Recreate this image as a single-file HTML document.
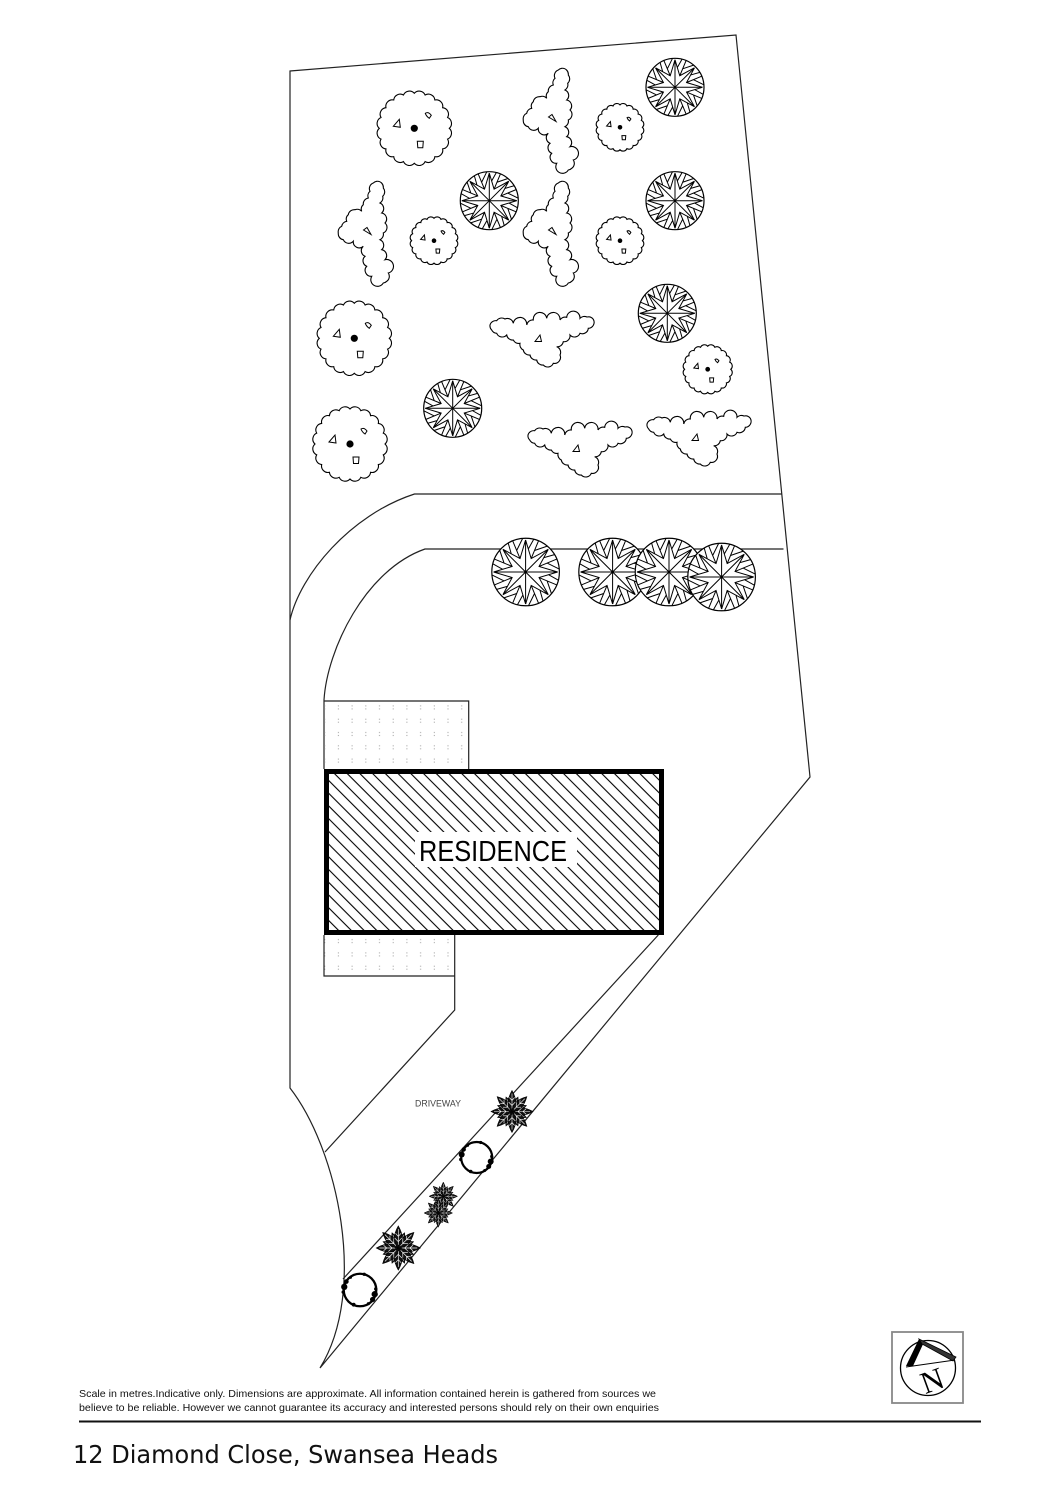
<!DOCTYPE html>
<html><head><meta charset="utf-8">
<style>
html,body{margin:0;padding:0;background:#fff;}
svg{display:block;}
</style></head>
<body>
<svg width="1060" height="1500" viewBox="0 0 1060 1500" xmlns="http://www.w3.org/2000/svg">
<defs>
 <pattern id="hatch" width="9" height="9" patternUnits="userSpaceOnUse" patternTransform="rotate(-45)">
  <line x1="4.5" y1="-1" x2="4.5" y2="10" stroke="#000" stroke-width="1.1"/>
 </pattern>
 <pattern id="dots1" x="318" y="700.6" width="13.7" height="13.3" patternUnits="userSpaceOnUse">
  <rect x="6.2" y="4.8" width="1" height="1" fill="#999"/><rect x="6.2" y="7.8" width="1" height="1" fill="#999"/>
 </pattern>
 <pattern id="dots2" x="318" y="934.3" width="13.7" height="13.3" patternUnits="userSpaceOnUse">
  <rect x="6.2" y="4.8" width="1" height="1" fill="#999"/><rect x="6.2" y="7.8" width="1" height="1" fill="#999"/>
 </pattern>

 <!-- star tree -->
 <path id="sec" d="M0,-27.5 L4.78,-11.55 L19.45,-19.45 M0,0 L0,-27.5 M4.78,-11.55 L11.1,-26.79 M7.65,-18.48 L18.64,-22.21 M2.2,-19.5 L7.0,-28.1" fill="none" stroke="#000" stroke-width="1" vector-effect="non-scaling-stroke"/>
 <g id="st">
  <circle r="29" fill="#fff" stroke="#000" stroke-width="1.2" vector-effect="non-scaling-stroke"/>
  <use href="#sec"/>
  <use href="#sec" transform="rotate(45)"/>
  <use href="#sec" transform="rotate(90)"/>
  <use href="#sec" transform="rotate(135)"/>
  <use href="#sec" transform="rotate(180)"/>
  <use href="#sec" transform="rotate(225)"/>
  <use href="#sec" transform="rotate(270)"/>
  <use href="#sec" transform="rotate(315)"/>
 </g>

 <!-- cloud tree -->
 <g id="ct">
  <path d="M35,0 A6.5,6.5 0 0 1 33.29,10.82 A6.5,6.5 0 0 1 28.32,20.57 A6.5,6.5 0 0 1 20.57,28.32 A6.5,6.5 0 0 1 10.82,33.29 A6.5,6.5 0 0 1 0,35 A6.5,6.5 0 0 1 -10.82,33.29 A6.5,6.5 0 0 1 -20.57,28.32 A6.5,6.5 0 0 1 -28.32,20.57 A6.5,6.5 0 0 1 -33.29,10.82 A6.5,6.5 0 0 1 -35,0 A6.5,6.5 0 0 1 -33.29,-10.82 A6.5,6.5 0 0 1 -28.32,-20.57 A6.5,6.5 0 0 1 -20.57,-28.32 A6.5,6.5 0 0 1 -10.82,-33.29 A6.5,6.5 0 0 1 0,-35 A6.5,6.5 0 0 1 10.82,-33.29 A6.5,6.5 0 0 1 20.57,-28.32 A6.5,6.5 0 0 1 28.32,-20.57 A6.5,6.5 0 0 1 33.29,-10.82 A6.5,6.5 0 0 1 35,0 Z" fill="#fff" stroke="#000" stroke-width="1.1" vector-effect="non-scaling-stroke"/>
  <circle r="3.6" fill="#000"/>
  <path d="M-21,-2 L-15,-9 L-14,-1 Z M11,-15 Q14,-17 17,-13 L15,-10 Q12,-12 11,-15 Z M3,13 L9,13 L8.5,19.5 L3.5,19.5 Z" fill="none" stroke="#000" stroke-width="1" vector-effect="non-scaling-stroke"/>
 </g>

 <!-- vertical shrub -->
 <g id="vs">
  <path d="M561.7,68.3 A6,6 0 0 1 568.3,75 A6,6 0 0 1 567.7,83.3 A6,6 0 0 1 565,90 A6,6 0 0 1 566.7,100 A6,6 0 0 1 570,110 A6,6 0 0 1 568.3,120 A6,6 0 0 1 565,126.7 A6,6 0 0 1 566.7,136.7 A6,6 0 0 1 570,146.7 A6,6 0 0 1 573.3,160 A6,6 0 0 1 571.7,168.3 A6,6 0 0 1 568.3,170 A6,6 0 0 1 556.7,163.3 A6,6 0 0 1 551.7,153.3 A6,6 0 0 1 550,143.3 A6,6 0 0 1 548.3,133.3 A6,6 0 0 1 538.3,128.3 A6,6 0 0 1 528.3,126.7 A6,6 0 0 1 523.3,120 A6,6 0 0 1 526.7,113.3 A6,6 0 0 1 531.7,108.3 A6,6 0 0 1 533.3,101.7 A6,6 0 0 1 540,96.7 A6,6 0 0 1 546.7,98.3 A6,6 0 0 1 548.3,91.7 A6,6 0 0 1 553.3,85 A6,6 0 0 1 555,78.3 A6,6 0 0 1 558.3,70 A6,6 0 0 1 561.7,68.3 Z" fill="#fff" stroke="#000" stroke-width="1.1"/>
  <path d="M548.5,117 L552,114.5 L556,121.5 Z" fill="none" stroke="#000" stroke-width="1"/>
 </g>

 <!-- horizontal shrub -->
 <g id="hs">
  <path d="M490,325 A6,6 0 0 1 496.7,320.7 A6,6 0 0 1 505,319 A6,6 0 0 1 513.3,323.3 A6,6 0 0 1 526.7,325 A6,6 0 0 1 533.3,320 A6,6 0 0 1 546.7,318.3 A6,6 0 0 1 560,320 A6,6 0 0 1 566.7,317.3 A6,6 0 0 1 580,318.3 A6,6 0 0 1 587,317 A6,6 0 0 1 593.3,319.3 A6,6 0 0 1 588.3,328.3 A6,6 0 0 1 580,333.3 A6,6 0 0 1 570,335 A6,6 0 0 1 563.3,341.7 A6,6 0 0 1 556.7,346.7 A6,6 0 0 1 560,355 A6,6 0 0 1 553.3,363.3 A6,6 0 0 1 543.3,365 A6,6 0 0 1 536.7,360 A6,6 0 0 1 530,355 A6,6 0 0 1 523.3,350 A6,6 0 0 1 520,343.3 A6,6 0 0 1 513.3,340 A6,6 0 0 1 506.7,335 A6,6 0 0 1 496.7,333.3 A6,6 0 0 1 491.7,330 A6,6 0 0 1 490,325 Z" fill="#fff" stroke="#000" stroke-width="1.1"/>
  <path d="M535,341.5 L540,335 L541.5,341.5 Z" fill="none" stroke="#000" stroke-width="1"/>
 </g>

 <!-- leafy plant -->
 <g id="leaf">
  <path d="M0,0 Q8,-7.5 21,0 Q8,7.5 0,0Z" fill="#111" stroke="#000" stroke-width="0.6"/>
  <path d="M3,0 L18,0 M6,0 L9.5,-3.4 M6,0 L9.5,3.4 M11,0 L14,-2.6 M11,0 L14,2.6" stroke="#fff" stroke-width="0.6" fill="none"/>
 </g>
 <g id="lf">
  <use href="#leaf" transform="rotate(22.5) scale(0.75)"/>
  <use href="#leaf" transform="rotate(67.5) scale(0.75)"/>
  <use href="#leaf" transform="rotate(112.5) scale(0.75)"/>
  <use href="#leaf" transform="rotate(157.5) scale(0.75)"/>
  <use href="#leaf" transform="rotate(202.5) scale(0.75)"/>
  <use href="#leaf" transform="rotate(247.5) scale(0.75)"/>
  <use href="#leaf" transform="rotate(292.5) scale(0.75)"/>
  <use href="#leaf" transform="rotate(337.5) scale(0.75)"/>
  <use href="#leaf" transform="rotate(0)"/>
  <use href="#leaf" transform="rotate(45)"/>
  <use href="#leaf" transform="rotate(90)"/>
  <use href="#leaf" transform="rotate(135)"/>
  <use href="#leaf" transform="rotate(180)"/>
  <use href="#leaf" transform="rotate(225)"/>
  <use href="#leaf" transform="rotate(270)"/>
  <use href="#leaf" transform="rotate(315)"/>
 </g>
 <g id="rg">
  <circle r="15.5" fill="#fff" stroke="#000" stroke-width="2.2"/>
  <g fill="#000">
   <circle cx="-15" cy="-3" r="3"/><circle cx="-13" cy="-8" r="2.2"/><circle cx="-16" cy="2" r="1.6"/>
   <circle cx="14" cy="4" r="3"/><circle cx="12" cy="9" r="2.5"/><circle cx="15" cy="-1" r="1.6"/>
   <circle cx="4" cy="-15" r="1.6"/><circle cx="-6" cy="14" r="1.8"/><circle cx="-9" cy="-12" r="1.4"/><circle cx="8" cy="13" r="1.5"/>
  </g>
 </g>
 <clipPath id="resclip"><rect x="329" y="774" width="330" height="156"/></clipPath>
</defs>

<rect width="1060" height="1500" fill="#fff"/>

<!-- property boundary -->
<path d="M290,71 L736,35 L810,777 L320,1368 C368,1290 338,1150 290,1088 L290,71 Z" fill="none" stroke="#222" stroke-width="1.2"/>

<!-- driveway curves -->
<path d="M290,620 C300,575 350,515 414.5,494 L782,494" fill="none" stroke="#222" stroke-width="1.2"/>
<path d="M324,769 L324,700 C327,650 365,570 425,549 L783.5,549" fill="none" stroke="#222" stroke-width="1.2"/>

<!-- patios -->
<rect x="324" y="701" width="144.7" height="68" fill="url(#dots1)"/>
<path d="M324,701 L468.7,701 L468.7,769" fill="none" stroke="#222" stroke-width="1.2"/>
<rect x="324" y="935" width="130.7" height="41" fill="url(#dots2)"/>
<path d="M324,935 L324,976 L454.7,976 M454.7,935 L454.7,1010 L325,1152" fill="none" stroke="#222" stroke-width="1.2"/>

<!-- planting strip inner line -->
<path d="M658.3,935 L343,1279" fill="none" stroke="#222" stroke-width="1.2"/>

<!-- residence -->
<rect x="329" y="774" width="330" height="156" fill="url(#hatch)" clip-path="url(#resclip)"/>
<rect x="415" y="832" width="162" height="35" fill="#fff"/>
<rect x="326.5" y="771.5" width="335" height="161" fill="none" stroke="#000" stroke-width="5"/>
<text x="419" y="861" font-family="Liberation Sans, Arial, sans-serif" font-size="29" textLength="148" lengthAdjust="spacingAndGlyphs" fill="#000">RESIDENCE</text>

<!-- top trees -->
<use href="#st" transform="translate(675,87.3)"/>
<use href="#st" transform="translate(489.3,200.7)"/>
<use href="#st" transform="translate(675,200.7)"/>
<use href="#st" transform="translate(667.3,313.3)"/>
<use href="#st" transform="translate(452.7,408.3)"/>

<use href="#ct" transform="translate(414.3,128.3)"/>
<use href="#ct" transform="translate(354.3,338.3)"/>
<use href="#ct" transform="translate(350,444)"/>
<use href="#ct" transform="translate(620,127.3) scale(0.64)"/>
<use href="#ct" transform="translate(434,240.7) scale(0.64)"/>
<use href="#ct" transform="translate(620,240.7) scale(0.64)"/>
<use href="#ct" transform="translate(707.7,369.3) scale(0.66)"/>

<use href="#vs"/>
<use href="#vs" transform="translate(0,113)"/>
<use href="#vs" transform="translate(-185,113)"/>

<use href="#hs"/>
<use href="#hs" transform="translate(38,110)"/>
<use href="#hs" transform="translate(157,99)"/>

<!-- tree row -->
<use href="#st" transform="translate(525.6,572) scale(1.165)"/>
<use href="#st" transform="translate(612.6,572) scale(1.165)"/>
<use href="#st" transform="translate(669,572) scale(1.165)"/>
<use href="#st" transform="translate(721.6,577) scale(1.165)"/>

<!-- strip plants -->
<use href="#lf" transform="translate(512,1111.5)"/>
<use href="#rg" transform="translate(476.7,1157.5)"/>
<use href="#lf" transform="translate(443.3,1196.3) scale(0.68)"/>
<use href="#lf" transform="translate(438.3,1213) scale(0.68)"/>
<use href="#lf" transform="translate(398.3,1248) scale(1.05)"/>
<use href="#rg" transform="translate(360,1290) scale(1.05)"/>

<text x="415" y="1106.5" font-family="Liberation Sans, Arial, sans-serif" font-size="9.5" textLength="46" lengthAdjust="spacingAndGlyphs" fill="#444">DRIVEWAY</text>

<!-- north arrow -->
<rect x="892" y="1332" width="71" height="71" fill="#fff" stroke="#888" stroke-width="1.8"/>
<circle cx="928" cy="1368" r="27.5" fill="none" stroke="#000" stroke-width="1.3"/>
<path d="M906,1366 L919,1339 L924,1342 L913,1366 Z" fill="#000"/>
<path d="M919,1339 L956,1357 L953,1361 L922,1344 Z" fill="#333" stroke="#000" stroke-width="0.8"/>
<line x1="906" y1="1367" x2="955" y2="1360" stroke="#000" stroke-width="1"/>
<text x="932" y="1391" text-anchor="middle" font-family="Liberation Serif, serif" font-size="31" fill="#000" transform="rotate(-20 932 1380)">N</text>

<!-- footer -->
<text x="79" y="1397" font-family="Liberation Sans, Arial, sans-serif" font-size="10.5" textLength="577" lengthAdjust="spacingAndGlyphs" fill="#111">Scale in metres.Indicative only. Dimensions are approximate. All information contained herein is gathered from sources we</text>
<text x="79" y="1411" font-family="Liberation Sans, Arial, sans-serif" font-size="10.5" textLength="580" lengthAdjust="spacingAndGlyphs" fill="#111">believe to be reliable. However we cannot guarantee its accuracy and interested persons should rely on their own enquiries</text>
<line x1="79" y1="1421.5" x2="981" y2="1421.5" stroke="#111" stroke-width="2"/>
<text x="73" y="1463" font-family="DejaVu Sans, Liberation Sans, sans-serif" font-size="25" textLength="425" lengthAdjust="spacingAndGlyphs" fill="#111">12 Diamond Close, Swansea Heads</text>
</svg>
</body></html>
